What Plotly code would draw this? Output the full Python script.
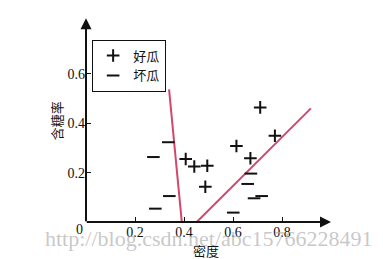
import plotly.graph_objects as go

# 好瓜 (good melons): density, sugar content
good_density = [0.711, 0.771, 0.614, 0.671, 0.407, 0.442, 0.495, 0.487]
good_sugar = [0.464, 0.349, 0.308, 0.258, 0.255, 0.225, 0.228, 0.143]
# 坏瓜 (bad melons)
bad_density = [0.336, 0.275, 0.340, 0.283, 0.673, 0.660, 0.717, 0.686, 0.601]
bad_sugar = [0.323, 0.263, 0.105, 0.054, 0.196, 0.154, 0.105, 0.096, 0.038]
# decision boundary segments
line1_x = [0.339, 0.391]
line1_y = [0.537, 0.0]
line2_x = [0.452, 0.918]
line2_y = [0.0, 0.460]

x_ticks = [0.2, 0.4, 0.6, 0.8]
x_tick_text = ["0.2", "0.4", "0.6", "0.8"]
y_ticks = [0.2, 0.4, 0.6]
y_tick_text = ["0.2", "0.4", "0.6"]

SERIF = "Liberation Serif, DejaVu Serif, serif"
CJK = "Noto Sans CJK SC"
RED = "#d4476a"
INK = "#111111"

fig = go.Figure()
fig.add_trace(go.Scatter(x=line1_x, y=line1_y, mode="lines",
                         line=dict(color=RED, width=2), showlegend=False, hoverinfo="skip"))
fig.add_trace(go.Scatter(x=line2_x, y=line2_y, mode="lines",
                         line=dict(color=RED, width=2), showlegend=False, hoverinfo="skip"))
fig.add_trace(go.Scatter(x=good_density, y=good_sugar, mode="markers", name="好瓜",
                         marker=dict(symbol="cross-thin", size=9,
                                     line=dict(color=INK, width=2), color=INK)))
fig.add_trace(go.Scatter(x=bad_density, y=bad_sugar, mode="markers", name="坏瓜",
                         marker=dict(symbol="line-ew", size=9,
                                     line=dict(color=INK, width=2), color=INK)))

# axes with arrows
fig.add_annotation(x=1.0, y=0, ax=-0.003, ay=0, xref="x", yref="y", axref="x", ayref="y",
                   showarrow=True, arrowhead=2, arrowsize=1.1, arrowwidth=2, arrowcolor=INK, text="")
fig.add_annotation(x=0, y=0.825, ax=0, ay=-0.003, xref="x", yref="y", axref="x", ayref="y",
                   showarrow=True, arrowhead=2, arrowsize=1.1, arrowwidth=2, arrowcolor=INK, text="")

fig.add_annotation(x=0, y=0, xref="x", yref="y", text="0", showarrow=False,
                   xanchor="right", yanchor="top", xshift=-1, yshift=2,
                   font=dict(family=SERIF, size=14, color=INK))
fig.add_annotation(x=0.49, y=0, xref="x", yref="y", text="密度", showarrow=False,
                   yanchor="middle", yshift=-28,
                   font=dict(family=CJK, size=13, color=INK))
fig.add_annotation(x=0, y=0.4, xref="x", yref="y", text="含糖率", showarrow=False,
                   textangle=-90, xanchor="center", xshift=-30, yshift=2,
                   font=dict(family=CJK, size=13, color=INK))
# watermark
fig.add_annotation(x=0.5, y=0, xref="paper", yref="paper", text="http://blog.csdn.net/abc15766228491",
                   showarrow=False, yanchor="middle", xshift=0, yshift=-16,
                   font=dict(family=SERIF, size=22, color="rgba(175,175,175,0.7)"))

fig.update_xaxes(range=[0, 1.0], showgrid=False, zeroline=False, showline=False,
                 tickvals=x_ticks, ticktext=x_tick_text, ticks="inside", ticklen=5,
                 tickwidth=1, tickcolor=INK, tickfont=dict(family=SERIF, size=14, color=INK))
fig.update_yaxes(range=[0, 0.83], showgrid=False, zeroline=False, showline=False,
                 tickvals=y_ticks, ticktext=y_tick_text, ticks="inside", ticklen=5,
                 tickwidth=1, tickcolor=INK, tickfont=dict(family=SERIF, size=14, color=INK))

fig.update_layout(
    width=383, height=259,
    margin=dict(l=86, r=52, t=17, b=37),
    paper_bgcolor="white", plot_bgcolor="white",
    legend=dict(x=0.025, y=0.89, xanchor="left", yanchor="top",
                bordercolor=INK, borderwidth=1, bgcolor="white",
                font=dict(family=CJK, size=13, color=INK),
                tracegroupgap=0, itemwidth=30),
)

fig.write_html("out.html")
